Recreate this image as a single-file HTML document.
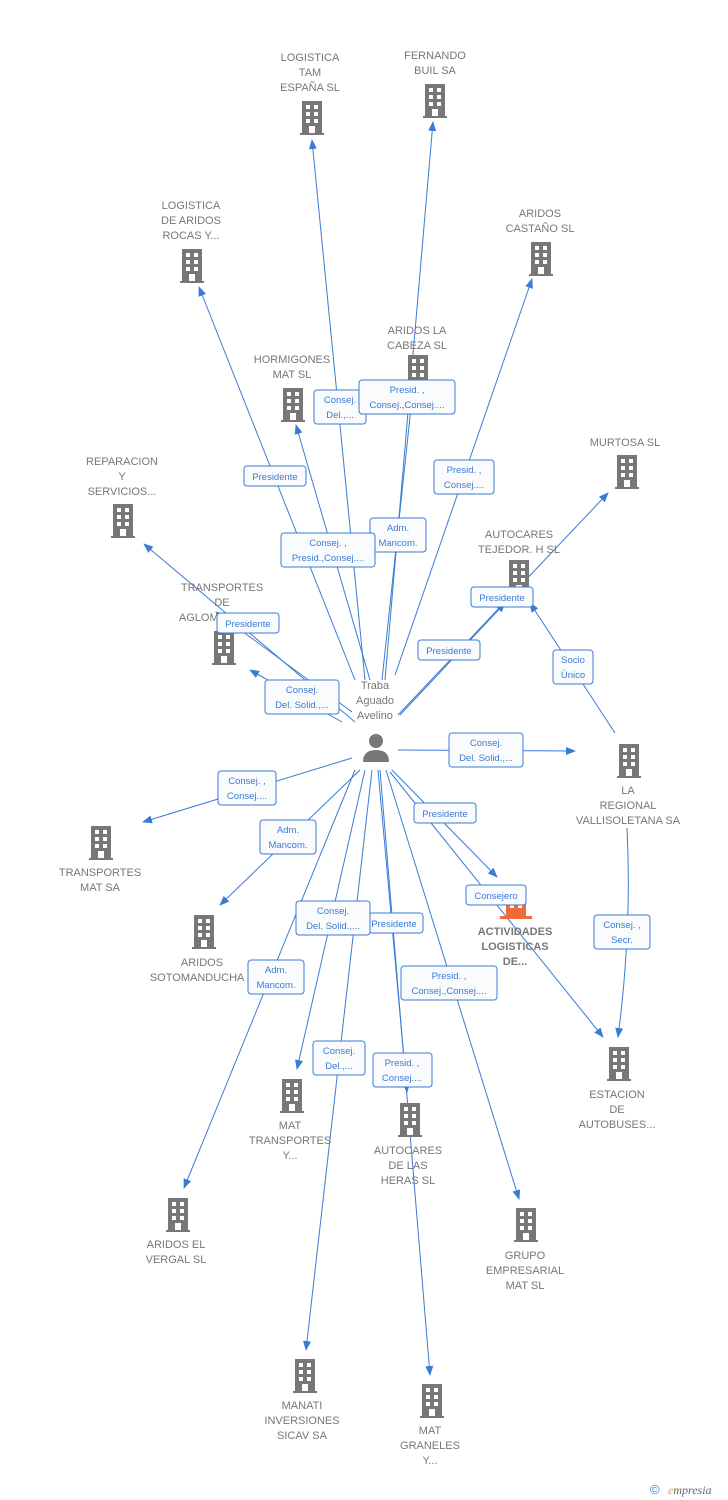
<!DOCTYPE html>
<html><head><meta charset="utf-8"><style>
html,body{margin:0;padding:0;background:#fff}
svg{display:block}
.n{font-family:"Liberation Sans",sans-serif;font-size:11px;fill:#777;text-anchor:middle}
.r{font-family:"Liberation Sans",sans-serif;font-size:11px;fill:#777;font-weight:bold;text-anchor:middle}
.l{font-family:"Liberation Sans",sans-serif;font-size:9.5px;fill:#3a7bd5;text-anchor:middle}
.e{stroke:#3a7bd5;stroke-width:1;fill:none}
.b{fill:#fafbfd;stroke:#3a7bd5;stroke-width:1}
</style></head><body>
<svg width="728" height="1500" viewBox="0 0 728 1500" xmlns="http://www.w3.org/2000/svg">
<defs>
<symbol id="bd" viewBox="0 0 28 34"><rect x="4" y="0" width="20" height="32" fill="#777"/><rect x="2" y="32" width="24" height="2" fill="#777"/>
<g fill="#fff"><rect x="8" y="4" width="4" height="4"/><rect x="16" y="4" width="4" height="4"/><rect x="8" y="11" width="4" height="4"/><rect x="16" y="11" width="4" height="4"/><rect x="8" y="18" width="4" height="4"/><rect x="16" y="18" width="4" height="4"/><rect x="11" y="25" width="6" height="7"/></g></symbol>
<marker id="a" markerWidth="10" markerHeight="10" refX="9" refY="5" orient="auto" markerUnits="userSpaceOnUse"><path d="M0,1 L10,5 L0,9 Z" fill="#3a7bd5"/></marker>
</defs>
<g class="e" marker-end="url(#a)">
<line x1="365" y1="680" x2="312" y2="140"/>
<line x1="385" y1="680" x2="433" y2="122"/>
<line x1="355" y1="680" x2="199" y2="287"/>
<line x1="395" y1="675" x2="532" y2="279"/>
<line x1="382" y1="680" x2="415" y2="370"/>
<line x1="370" y1="680" x2="296" y2="425"/>
<line x1="398" y1="715" x2="608" y2="493"/>
<line x1="355" y1="722" x2="144" y2="544"/>
<line x1="400" y1="715" x2="505" y2="603"/>
<line x1="615" y1="733" x2="530" y2="603"/>
<line x1="342" y1="722" x2="250" y2="670"/>
<line x1="352" y1="712" x2="216" y2="612"/>
<line x1="398" y1="750" x2="575" y2="751"/>
<line x1="352" y1="758" x2="143" y2="822"/>
<line x1="360" y1="770" x2="220" y2="905"/>
<line x1="392" y1="770" x2="497" y2="877"/>
<line x1="390" y1="772" x2="603" y2="1037"/>
<path d="M627 828 Q632 930 618 1037"/>
<line x1="365" y1="770" x2="297" y2="1069"/>
<line x1="378" y1="770" x2="407" y2="1092"/>
<line x1="355" y1="770" x2="184" y2="1188"/>
<line x1="386" y1="770" x2="519" y2="1199"/>
<line x1="372" y1="770" x2="306" y2="1350"/>
<line x1="380" y1="770" x2="430" y2="1375"/>
</g>
<g>
<use href="#bd" x="298" y="101" width="28" height="34"/>
<use href="#bd" x="421" y="84" width="28" height="34"/>
<use href="#bd" x="178" y="249" width="28" height="34"/>
<use href="#bd" x="527" y="242" width="28" height="34"/>
<use href="#bd" x="404" y="355" width="28" height="34"/>
<use href="#bd" x="279" y="388" width="28" height="34"/>
<use href="#bd" x="613" y="455" width="28" height="34"/>
<use href="#bd" x="109" y="504" width="28" height="34"/>
<use href="#bd" x="505" y="560" width="28" height="34"/>
<use href="#bd" x="210" y="631" width="28" height="34"/>
<use href="#bd" x="615" y="744" width="28" height="34"/>
<use href="#bd" x="87" y="826" width="28" height="34"/>
<use href="#bd" x="190" y="915" width="28" height="34"/>
<use href="#bd" x="605" y="1047" width="28" height="34"/>
<use href="#bd" x="278" y="1079" width="28" height="34"/>
<use href="#bd" x="396" y="1103" width="28" height="34"/>
<use href="#bd" x="164" y="1198" width="28" height="34"/>
<use href="#bd" x="512" y="1208" width="28" height="34"/>
<use href="#bd" x="291" y="1359" width="28" height="34"/>
<use href="#bd" x="418" y="1384" width="28" height="34"/>
</g>
<g fill="#f26a3a"><rect x="506" y="886" width="20" height="32"/><rect x="500" y="916" width="32" height="3"/></g>
<g fill="#fff"><rect x="510" y="904" width="4" height="4"/><rect x="518" y="904" width="4" height="4"/></g>
<g fill="#777"><circle cx="376" cy="741" r="7"/><path d="M363 762 Q363 750 376 750 Q389 750 389 762 Z"/></g>
<g class="n">
<text x="310" y="61">LOGISTICA</text><text x="310" y="76">TAM</text><text x="310" y="91">ESPAÑA SL</text>
<text x="435" y="59">FERNANDO</text><text x="435" y="74">BUIL SA</text>
<text x="191" y="209">LOGISTICA</text><text x="191" y="224">DE ARIDOS</text><text x="191" y="239">ROCAS Y...</text>
<text x="540" y="217">ARIDOS</text><text x="540" y="232">CASTAÑO  SL</text>
<text x="417" y="334">ARIDOS LA</text><text x="417" y="349">CABEZA SL</text>
<text x="292" y="363">HORMIGONES</text><text x="292" y="378">MAT  SL</text>
<text x="625" y="446">MURTOSA SL</text>
<text x="122" y="465">REPARACION</text><text x="122" y="480">Y</text><text x="122" y="495">SERVICIOS...</text>
<text x="519" y="538">AUTOCARES</text><text x="519" y="553">TEJEDOR. H SL</text>
<text x="222" y="591">TRANSPORTES</text><text x="222" y="606">DE</text><text x="222" y="621">AGLOMERADOS</text>
<text x="375" y="689">Traba</text><text x="375" y="704">Aguado</text><text x="375" y="719">Avelino</text>
<text x="628" y="794">LA</text><text x="628" y="809">REGIONAL</text><text x="628" y="824">VALLISOLETANA SA</text>
<text x="100" y="876">TRANSPORTES</text><text x="100" y="891">MAT SA</text>
<text x="202" y="966">ARIDOS</text><text x="202" y="981">SOTOMANDUCHA S</text>
<text x="617" y="1098">ESTACION</text><text x="617" y="1113">DE</text><text x="617" y="1128">AUTOBUSES...</text>
<text x="290" y="1129">MAT</text><text x="290" y="1144">TRANSPORTES</text><text x="290" y="1159">Y...</text>
<text x="408" y="1154">AUTOCARES</text><text x="408" y="1169">DE LAS</text><text x="408" y="1184">HERAS SL</text>
<text x="176" y="1248">ARIDOS EL</text><text x="176" y="1263">VERGAL SL</text>
<text x="525" y="1259">GRUPO</text><text x="525" y="1274">EMPRESARIAL</text><text x="525" y="1289">MAT SL</text>
<text x="302" y="1409">MANATI</text><text x="302" y="1424">INVERSIONES</text><text x="302" y="1439">SICAV SA</text>
<text x="430" y="1434">MAT</text><text x="430" y="1449">GRANELES</text><text x="430" y="1464">Y...</text>
</g>
<g class="r"><text x="515" y="935">ACTIVIDADES</text><text x="515" y="950">LOGISTICAS</text><text x="515" y="965">DE...</text></g>
<g>
<rect class="b" x="314" y="390" width="52" height="34" rx="3"/><text class="l" x="340" y="403">Consej.</text><text class="l" x="340" y="418">Del.,...</text>
<rect class="b" x="359" y="380" width="96" height="34" rx="3"/><text class="l" x="407" y="393">Presid. ,</text><text class="l" x="407" y="408">Consej.,Consej....</text>
<rect class="b" x="244" y="466" width="62" height="20" rx="3"/><text class="l" x="275" y="480">Presidente</text>
<rect class="b" x="434" y="460" width="60" height="34" rx="3"/><text class="l" x="464" y="473">Presid. ,</text><text class="l" x="464" y="488">Consej....</text>
<rect class="b" x="370" y="518" width="56" height="34" rx="3"/><text class="l" x="398" y="531">Adm.</text><text class="l" x="398" y="546">Mancom.</text>
<rect class="b" x="281" y="533" width="94" height="34" rx="3"/><text class="l" x="328" y="546">Consej. ,</text><text class="l" x="328" y="561">Presid.,Consej....</text>
<rect class="b" x="471" y="587" width="62" height="20" rx="3"/><text class="l" x="502" y="601">Presidente</text>
<rect class="b" x="217" y="613" width="62" height="20" rx="3"/><text class="l" x="248" y="627">Presidente</text>
<rect class="b" x="418" y="640" width="62" height="20" rx="3"/><text class="l" x="449" y="654">Presidente</text>
<rect class="b" x="553" y="650" width="40" height="34" rx="3"/><text class="l" x="573" y="663">Socio</text><text class="l" x="573" y="678">Único</text>
<rect class="b" x="265" y="680" width="74" height="34" rx="3"/><text class="l" x="302" y="693">Consej.</text><text class="l" x="302" y="708">Del. Solid.,...</text>
<rect class="b" x="449" y="733" width="74" height="34" rx="3"/><text class="l" x="486" y="746">Consej.</text><text class="l" x="486" y="761">Del. Solid.,...</text>
<rect class="b" x="218" y="771" width="58" height="34" rx="3"/><text class="l" x="247" y="784">Consej. ,</text><text class="l" x="247" y="799">Consej....</text>
<rect class="b" x="260" y="820" width="56" height="34" rx="3"/><text class="l" x="288" y="833">Adm.</text><text class="l" x="288" y="848">Mancom.</text>
<rect class="b" x="414" y="803" width="62" height="20" rx="3"/><text class="l" x="445" y="817">Presidente</text>
<rect class="b" x="466" y="885" width="60" height="20" rx="3"/><text class="l" x="496" y="899">Consejero</text>
<rect class="b" x="369" y="913" width="54" height="20" rx="3"/><text class="l" x="394" y="927">Presidente</text>
<rect class="b" x="296" y="901" width="74" height="34" rx="3"/><text class="l" x="333" y="914">Consej.</text><text class="l" x="333" y="929">Del. Solid.,...</text>
<rect class="b" x="594" y="915" width="56" height="34" rx="3"/><text class="l" x="622" y="928">Consej. ,</text><text class="l" x="622" y="943">Secr.</text>
<rect class="b" x="401" y="966" width="96" height="34" rx="3"/><text class="l" x="449" y="979">Presid. ,</text><text class="l" x="449" y="994">Consej.,Consej....</text>
<rect class="b" x="248" y="960" width="56" height="34" rx="3"/><text class="l" x="276" y="973">Adm.</text><text class="l" x="276" y="988">Mancom.</text>
<rect class="b" x="313" y="1041" width="52" height="34" rx="3"/><text class="l" x="339" y="1054">Consej.</text><text class="l" x="339" y="1069">Del.,...</text>
<rect class="b" x="373" y="1053" width="59" height="34" rx="3"/><text class="l" x="402" y="1066">Presid. ,</text><text class="l" x="402" y="1081">Consej....</text>
</g>
<text x="650" y="1494" font-family="Liberation Sans,sans-serif" font-size="13" fill="#3a7bd5">©</text>
<text x="668" y="1494" font-family="Liberation Serif,serif" font-style="italic" font-size="12" fill="#666"><tspan fill="#f0a020">e</tspan>mpresia</text>
</svg>
</body></html>
